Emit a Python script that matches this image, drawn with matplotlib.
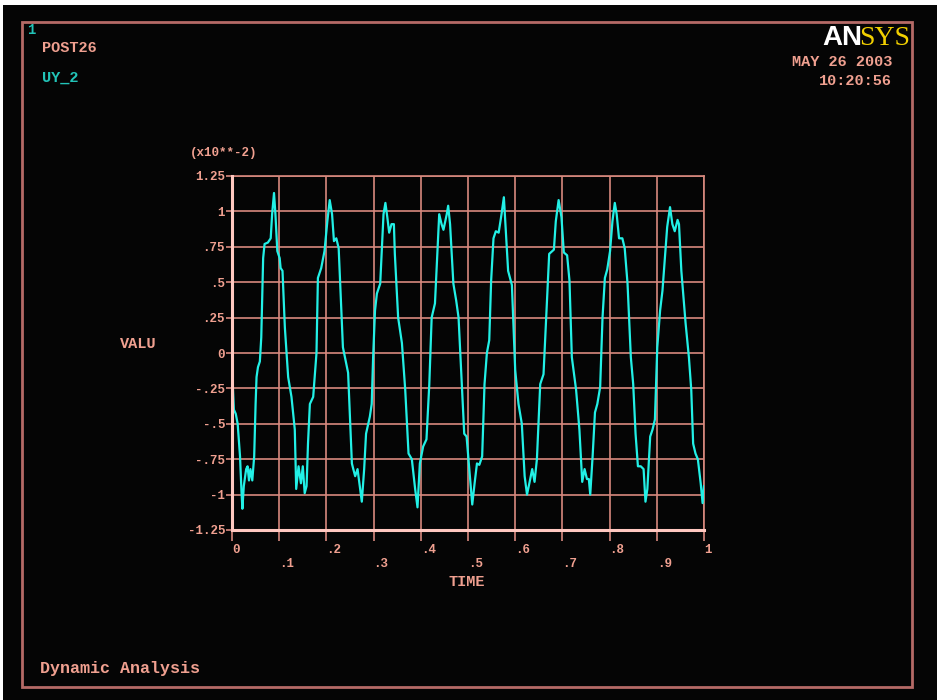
import matplotlib
matplotlib.use('Agg')
import matplotlib.pyplot as plt
from matplotlib.patches import Rectangle

# UY_2 displacement (x10**-2)
time = [0.000, 0.002, 0.004, 0.008, 0.012, 0.017, 0.020, 0.022, 0.025, 0.030,
        0.033, 0.036, 0.039, 0.043, 0.047, 0.050, 0.052, 0.055, 0.059, 0.062,
        0.066, 0.069, 0.076, 0.082, 0.085, 0.089, 0.092, 0.096, 0.101, 0.103,
        0.107, 0.112, 0.119, 0.126, 0.133, 0.136, 0.141, 0.146, 0.150, 0.154,
        0.158, 0.161, 0.165, 0.172, 0.179, 0.182, 0.189, 0.196, 0.202, 0.207,
        0.212, 0.216, 0.221, 0.226, 0.235, 0.246, 0.254, 0.257, 0.261, 0.266,
        0.270, 0.275, 0.280, 0.284, 0.292, 0.296, 0.299, 0.303, 0.307, 0.314,
        0.317, 0.321, 0.325, 0.329, 0.333, 0.338, 0.343, 0.345, 0.352, 0.360,
        0.367, 0.374, 0.381, 0.388, 0.393, 0.398, 0.405, 0.412, 0.418, 0.423,
        0.430, 0.435, 0.439, 0.444, 0.448, 0.455, 0.458, 0.462, 0.469, 0.475,
        0.480, 0.487, 0.492, 0.497, 0.504, 0.509, 0.514, 0.519, 0.524, 0.530,
        0.535, 0.540, 0.545, 0.549, 0.554, 0.559, 0.565, 0.571, 0.576, 0.579,
        0.585, 0.593, 0.600, 0.607, 0.614, 0.620, 0.625, 0.630, 0.636, 0.641,
        0.646, 0.653, 0.660, 0.665, 0.672, 0.682, 0.686, 0.692, 0.698, 0.703,
        0.710, 0.715, 0.720, 0.729, 0.736, 0.742, 0.747, 0.752, 0.756, 0.759,
        0.764, 0.769, 0.774, 0.780, 0.785, 0.790, 0.795, 0.801, 0.806, 0.811,
        0.815, 0.820, 0.827, 0.832, 0.838, 0.845, 0.850, 0.855, 0.860, 0.866,
        0.872, 0.876, 0.880, 0.886, 0.891, 0.896, 0.901, 0.907, 0.912, 0.917,
        0.922, 0.928, 0.933, 0.938, 0.944, 0.947, 0.952, 0.961, 0.968, 0.973,
        0.977, 0.982, 0.987, 0.993, 0.997, 1.000]
uy_2 = [0.00, -0.25, -0.40, -0.43, -0.50, -0.73, -0.97, -1.10, -0.94, -0.82,
        -0.80, -0.90, -0.82, -0.90, -0.73, -0.36, -0.17, -0.10, -0.06, 0.11,
        0.67, 0.77, 0.78, 0.81, 0.98, 1.13, 0.98, 0.72, 0.67, 0.60,
        0.58, 0.18, -0.17, -0.31, -0.54, -0.96, -0.80, -0.92, -0.80, -0.99,
        -0.94, -0.64, -0.36, -0.31, 0.00, 0.53, 0.60, 0.72, 0.93, 1.08,
        0.98, 0.79, 0.81, 0.74, 0.04, -0.14, -0.78, -0.82, -0.87, -0.82,
        -0.92, -1.05, -0.82, -0.57, -0.45, -0.36, -0.03, 0.30, 0.42, 0.49,
        0.70, 0.98, 1.06, 0.96, 0.85, 0.91, 0.91, 0.70, 0.25, 0.07,
        -0.26, -0.71, -0.75, -0.96, -1.09, -0.78, -0.66, -0.61, -0.22, 0.25,
        0.35, 0.70, 0.98, 0.91, 0.87, 0.98, 1.04, 0.91, 0.49, 0.37,
        0.25, -0.22, -0.57, -0.59, -0.87, -1.07, -0.92, -0.78, -0.79, -0.73,
        -0.22, 0.00, 0.09, 0.51, 0.81, 0.86, 0.85, 0.98, 1.10, 0.93,
        0.58, 0.48, -0.12, -0.36, -0.50, -0.87, -1.00, -0.92, -0.82, -0.91,
        -0.75, -0.22, -0.15, 0.21, 0.70, 0.73, 0.93, 1.08, 0.96, 0.71,
        0.69, 0.51, -0.03, -0.26, -0.54, -0.91, -0.82, -0.89, -0.89, -1.00,
        -0.73, -0.42, -0.36, -0.24, 0.25, 0.53, 0.59, 0.72, 0.93, 1.06,
        0.98, 0.81, 0.81, 0.74, 0.49, -0.03, -0.22, -0.57, -0.80, -0.80,
        -0.82, -1.05, -0.96, -0.59, -0.54, -0.47, 0.04, 0.30, 0.44, 0.67,
        0.89, 1.03, 0.91, 0.86, 0.94, 0.91, 0.58, 0.21, -0.03, -0.26,
        -0.64, -0.71, -0.75, -0.92, -1.06, -0.94]

x_ticks = [0.0, 0.1, 0.2, 0.3, 0.4, 0.5, 0.6, 0.7, 0.8, 0.9, 1.0]
x_labels = ['0', '.1', '.2', '.3', '.4', '.5', '.6', '.7', '.8', '.9', '1']
y_ticks = [-1.25, -1.0, -0.75, -0.5, -0.25, 0.0, 0.25, 0.5, 0.75, 1.0, 1.25]
y_labels = ['-1.25', '-1', '-.75', '-.5', '-.25', '0', '.25', '.5', '.75', '1', '1.25']

W, H = 943, 700
bg = '#050505'
salmon = '#f0a090'
teal = '#22c4b8'
gridc = '#d8897e'
mono = 'Liberation Mono'


def fp(x, y):
    # pixel (from top-left) -> figure fraction
    return x / W, 1 - y / H


fig = plt.figure(figsize=(W / 100, H / 100), dpi=100, facecolor='white')
fig.patches.append(Rectangle((3 / W, 0), 934 / W, 695 / H, transform=fig.transFigure,
                             facecolor=bg, edgecolor='none', zorder=-2))
fig.patches.append(Rectangle(fp(22, 687), 890 / W, 665 / H, transform=fig.transFigure,
                             fill=False, edgecolor='#b56a66', lw=2, zorder=-1))

ax = fig.add_axes([232 / W, 1 - 530 / H, 472 / W, 354 / H])
ax.set_facecolor(bg)
ax.plot(time, uy_2, color='#22f0e6', lw=1.6, zorder=3)
ax.set_xlim(0, 1)
ax.set_ylim(-1.25, 1.25)

ax.set_xticks(x_ticks)
ax.set_xticklabels([l if i % 2 == 0 else '\n' + l for i, l in enumerate(x_labels)],
                   ha='left', linespacing=1.25)
ax.set_yticks(y_ticks)
ax.set_yticklabels(y_labels)
for lab in ax.get_xticklabels() + ax.get_yticklabels():
    lab.set_fontfamily(mono)
    lab.set_fontweight('bold')
    lab.set_fontsize(9)
    lab.set_color(salmon)

ax.grid(True, color=gridc, lw=1.2)
ax.tick_params(axis='x', direction='out', length=8, width=1.2, color=gridc, pad=2)
ax.tick_params(axis='y', direction='out', length=4, width=1.2, color=gridc, pad=1)
for side in ['left', 'bottom']:
    ax.spines[side].set_color('#ffc8c0')
    ax.spines[side].set_linewidth(2.2)
    ax.spines[side].set_zorder(4)
for side in ['top', 'right']:
    ax.spines[side].set_color(gridc)
    ax.spines[side].set_linewidth(1.2)

txt = dict(family=mono, weight='bold', color=salmon)
fig.text(*fp(27, 30), '1', fontsize=10, va='center', ha='left', family=mono,
         weight='bold', color=teal)
fig.text(*fp(42, 48), 'POST26', fontsize=11, va='center', ha='left', **txt)
fig.text(*fp(42, 78), 'UY_2', fontsize=11, va='center', ha='left', family=mono,
         weight='bold', color=teal)
fig.text(*fp(892, 62), 'MAY 26 2003', fontsize=11, va='center', ha='right', **txt)
fig.text(*fp(892, 81), '10:20:56', fontsize=11, va='center', ha='right', **txt)
fig.text(*fp(862, 45), 'AN', fontsize=20, va='baseline', ha='right',
         family='Liberation Sans', weight='bold', color='white')
fig.text(*fp(910, 45), 'SYS', fontsize=20, va='baseline', ha='right',
         family='Liberation Serif', color='#f2d000')
fig.text(*fp(190, 153), '(x10**-2)', fontsize=9, va='center', ha='left', **txt)
fig.text(*fp(120, 344), 'VALU', fontsize=11, va='center', ha='left', **txt)
fig.text(*fp(467, 582), 'TIME', fontsize=11, va='center', ha='center', **txt)
fig.text(*fp(40, 669), 'Dynamic Analysis', fontsize=12, va='center', ha='left', **txt)

fig.savefig('out.png', dpi=100, facecolor=fig.get_facecolor())
